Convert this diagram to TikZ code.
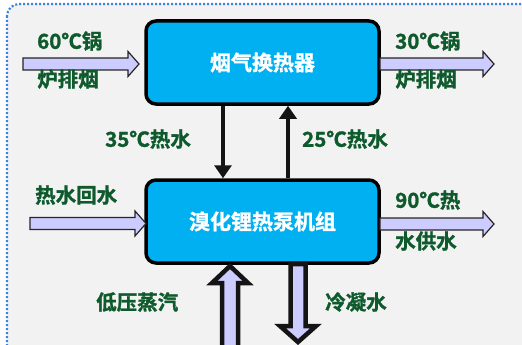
\documentclass[tikz,border=0pt]{standalone}
\usepackage{fontspec}
\newfontfamily\cjk{Noto Sans CJK SC}[BoldFont={Noto Sans CJK SC Bold}, BoldFeatures={FakeBold=1.3}]
\usetikzlibrary{arrows.meta}
\definecolor{bgray}{HTML}{F2F2F2}
\definecolor{dotblue}{HTML}{3C82E0}
\definecolor{boxblue}{HTML}{00B0F0}
\definecolor{lav}{HTML}{CCCCFF}
\definecolor{lblgreen}{HTML}{0E5A2C}
\tikzset{
  boxnode/.style={draw=black, line width=3.5pt, fill=boxblue, rounded corners=10pt,
    minimum width=233pt, minimum height=83pt, inner sep=0pt,
    text=white, font=\cjk\bfseries\fontsize{21}{21}\selectfont},
  lbl/.style={anchor=west, inner sep=0pt, text=lblgreen, font=\cjk\bfseries\fontsize{20.5}{20.5}\selectfont},
  blockarr/.style={draw=black!85, line width=1.2pt, fill=lav, line join=miter},
  fatarr/.style={draw=black!92, line width=4.5pt, fill=lav, line join=miter},
  thinarr/.style={draw=black!92, line width=4pt, -{Triangle[width=17pt,length=13pt]}}
}
\newcommand\harrow[3]{%
  \draw[blockarr] (#1,#2-6) -- (#3-11,#2-6) -- (#3-11,#2-12.5) -- (#3,#2) --
    (#3-11,#2+12.5) -- (#3-11,#2+6) -- (#1,#2+6) -- cycle;}
\begin{document}
\begin{tikzpicture}[x=1pt,y=-1pt]
\useasboundingbox (0,0) rectangle (522,345);
\fill[white] (0,0) rectangle (522,345);
\begin{scope}
\clip (0,0) rectangle (522,345);
\draw[fill=bgray, draw=dotblue, line width=2.2pt, dash pattern=on 2pt off 2pt, rounded corners=12pt]
  (7,4) rectangle (560,380);
\end{scope}
% boxes
\node[boxnode] (hx) at (262.5,62.5) {烟气换热器};
\node[boxnode] (hp) at (262.5,221.5) {溴化锂热泵机组};
% thin vertical arrows
\draw[thinarr] ([xshift=-39.5pt]hx.south) -- ([xshift=-39.5pt]hp.north);
\draw[thinarr] ([xshift=25.5pt]hp.north) -- ([xshift=25.5pt]hx.south);
% horizontal block arrows
\harrow{23}{64}{139}
\harrow{380}{64}{494}
\harrow{30}{223.5}{146}
\harrow{380}{224}{494}
% fat vertical arrows
\draw[fatarr] (222,352) -- (222,283) -- (212,283) -- (230,266) -- (248,283) -- (238,283) -- (238,352) -- cycle;
\draw[fatarr] (290.5,264) -- (290.5,326) -- (280,326) -- (298,342) -- (316,326) -- (305.5,326) -- (305.5,264) -- cycle;
% labels
\node[lbl] (l1) at (37,41) {60℃锅};
\node[lbl] (l2) at (37,79) {炉排烟};
\node[lbl] (r1) at (395,41) {30℃锅};
\node[lbl] (r2) at (395,79) {炉排烟};
\node[lbl] (m1) at (105,139) {35℃热水};
\node[lbl] (m2) at (302,139) {25℃热水};
\node[lbl] (l3) at (35,195) {热水回水};
\node[lbl] (r3) at (395,200) {90℃热};
\node[lbl] (r4) at (395,241) {水供水};
\node[lbl] (b1) at (96,302) {低压蒸汽};
\node[lbl] (b2) at (325,302) {冷凝水};
\end{tikzpicture}
\end{document}
